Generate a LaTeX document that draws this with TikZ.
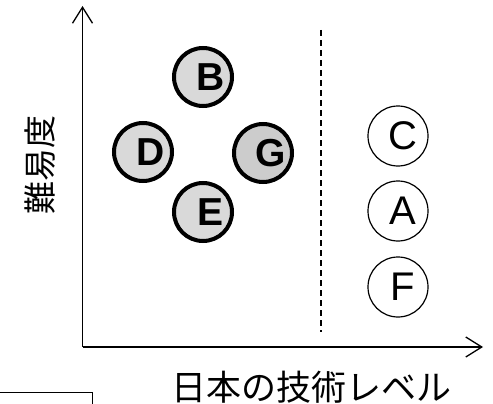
\documentclass[tikz,border=0pt]{standalone}
\usepackage{fontspec}
\setmainfont{Liberation Sans}
\newfontfamily\jpfont{Noto Sans CJK JP}
\usetikzlibrary{arrows.meta}
\tikzset{
  hard/.style={circle, draw=black, line width=4pt, fill=black!15, minimum size=58pt, inner sep=0pt, font=\fontsize{39}{39}\selectfont\bfseries},
  easy/.style={circle, draw=black, line width=1.2pt, fill=white, minimum size=60pt, inner sep=0pt, font=\fontsize{40}{40}\selectfont},
  axis/.style={line width=1.5pt, -{Straight Barb[length=16pt,width=20pt,line width=1.3pt]}},
  divider/.style={line width=1.5pt, dash pattern=on 6pt off 4pt},
  lbl/.style={font=\jpfont\fontsize{33}{33}\selectfont, inner sep=0pt}
}
\newcommand{\hardtxt}[1]{\hspace*{16pt}#1}
\newcommand{\easytxt}[1]{\hspace*{10pt}#1}
\begin{document}
\begin{tikzpicture}[x=1pt,y=-1pt]
\useasboundingbox (0,0) rectangle (493,404);
\coordinate (o) at (82.5,347);
\coordinate (ytop) at (82.5,6);
\coordinate (xend) at (483,347);
\draw[axis] (o) -- (ytop);
\draw[axis] (o) -- (xend);
\coordinate (d1) at (321,30);
\coordinate (d2) at (321,332);
\draw[divider] (d1) -- (d2);
\node[hard] (B) at (203,77) {\hardtxt{B}};
\node[hard] (D) at (143,152) {\hardtxt{D}};
\node[hard, fill=black!20] (G) at (263,153) {\hardtxt{G}};
\node[hard] (E) at (203,212) {\hardtxt{E}};
\node[easy] (C) at (398,136) {\easytxt{C}};
\node[easy] (A) at (398,211) {\easytxt{A}};
\node[easy] (F) at (398,287) {\easytxt{F}};
\node[lbl, rotate=90] (ylab) at (40,165) {難易度};
\node[lbl, font=\jpfont\fontsize{35}{35}\selectfont] (xlab) at (311,387) {日本の技術レベル};
\coordinate (b0) at (0,392);
\coordinate (b1) at (92,392);
\coordinate (b2) at (92,405);
\draw[line width=1pt] (b0) -- (b1) -- (b2);
\end{tikzpicture}
\end{document}
